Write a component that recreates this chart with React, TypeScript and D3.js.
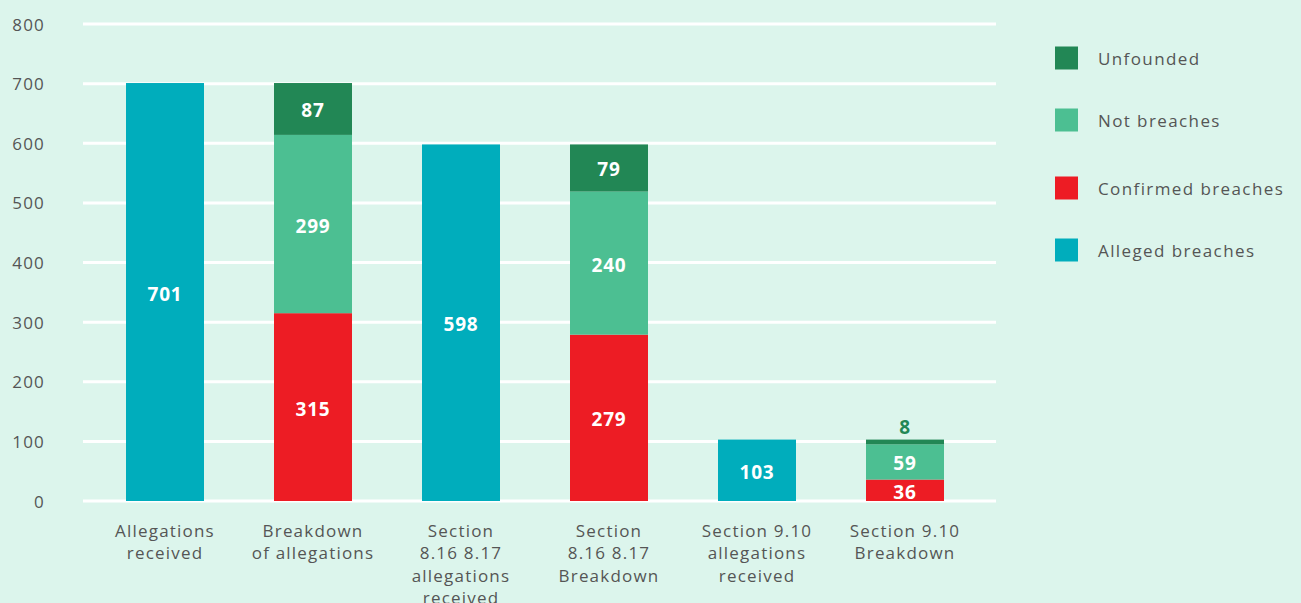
import React from "react";
import * as d3 from "d3";

const categories = [
  ["Allegations", "received"],
  ["Breakdown", "of allegations"],
  ["Section", "8.16 8.17", "allegations", "received"],
  ["Section", "8.16 8.17", "Breakdown"],
  ["Section 9.10", "allegations", "received"],
  ["Section 9.10", "Breakdown"],
];
const alleged = [701, 0, 598, 0, 103, 0];
const confirmed = [0, 315, 0, 279, 0, 36];
const notBreaches = [0, 299, 0, 240, 0, 59];
const unfounded = [0, 87, 0, 79, 0, 8];
const yTicks = [0, 100, 200, 300, 400, 500, 600, 700, 800];

const seriesNames = ["Alleged breaches", "Confirmed breaches", "Not breaches", "Unfounded"];
const colors = ["#00adbc", "#ed1c24", "#4cbf92", "#228755"];
const legendOrder = [3, 2, 1, 0];

export default function App() {
  const W = 1301, H = 603;
  const x = d3.scaleBand<number>().domain(d3.range(6)).range([91, 979]).paddingInner(0.473).paddingOuter(0.2365);
  const y = d3.scaleLinear().domain([0, 800]).range([501, 24]);
  const series = [alleged, confirmed, notBreaches, unfounded];
  const font = "'Open Sans', 'DejaVu Sans', sans-serif";
  const legendY = [58, 120, 188, 250];

  const bars: React.ReactNode[] = [];
  categories.forEach((_, i) => {
    let base = 0;
    series.forEach((s, k) => {
      const v = s[i];
      if (!v) return;
      const y0 = y(base), y1 = y(base + v);
      const xb = x(i)!;
      bars.push(
        <rect key={`r${i}-${k}`} x={xb} y={y1} width={x.bandwidth()} height={y0 - y1} fill={colors[k]} />
      );
      const small = y0 - y1 < 16;
      bars.push(
        <text key={`t${i}-${k}`} x={xb + x.bandwidth() / 2} y={small ? y1 - 13 : (y0 + y1) / 2 + 1.5}
          textAnchor="middle" dominantBaseline="central" fontFamily={font} fontWeight={700}
          fontSize={19} letterSpacing={0.8} fill={small ? colors[k] : "#ffffff"}>{v}</text>
      );
      base += v;
    });
  });

  return (
    <svg width={W} height={H} style={{ position: "absolute", left: 0, top: 0, background: "#dcf5ec" }}>
      <rect x={0} y={0} width={W} height={H} fill="#dcf5ec" />
      {yTicks.map((t) => (
        <g key={t}>
          <line x1={83} x2={996} y1={y(t)} y2={y(t)} stroke="#ffffff" strokeWidth={3} />
          <text x={45} y={y(t)} textAnchor="end" dominantBaseline="central" fontFamily={font}
            fontSize={17} letterSpacing={1.2} fill="#555555">{t}</text>
        </g>
      ))}
      {bars}
      {categories.map((lines, i) => (
        <text key={`c${i}`} x={x(i)! + x.bandwidth() / 2} y={530} textAnchor="middle"
          fontFamily={font} fontSize={17} letterSpacing={1.2} fill="#555555">
          {lines.map((l, j) => (
            <tspan key={j} x={x(i)! + x.bandwidth() / 2} y={530 + j * 22.5} dominantBaseline="central">{l}</tspan>
          ))}
        </text>
      ))}
      {legendOrder.map((k, j) => (
        <g key={`l${k}`}>
          <rect x={1055} y={legendY[j] - 11.5} width={23} height={23} fill={colors[k]} />
          <text x={1098} y={legendY[j]} dominantBaseline="central" fontFamily={font} fontSize={17}
            fill="#555555" letterSpacing={1.4}>{seriesNames[k]}</text>
        </g>
      ))}
    </svg>
  );
}
